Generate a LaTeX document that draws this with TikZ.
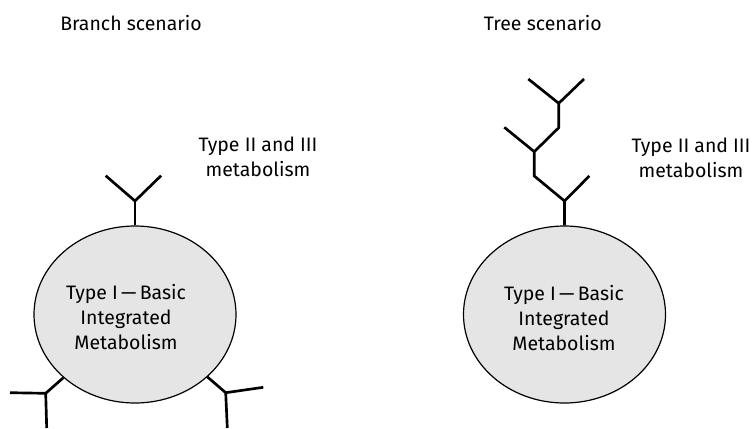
\documentclass[tikz,border=0pt]{standalone}
\usepackage{fontspec}
\setmainfont{Fira Sans}
\usetikzlibrary{shapes.geometric,positioning}

\definecolor{coregray}{RGB}{229,229,229}

\tikzset{
  core/.style={ellipse, draw, line width=0.9pt, fill=coregray,
    minimum width=151.5pt, minimum height=132.75pt, inner sep=0pt},
  twig/.style={line width=2pt},
  caption/.style={font=\fontsize{14.6}{18.75}\selectfont, align=center, inner sep=0pt},
}

\begin{document}
\begin{tikzpicture}[x=0.75pt,y=0.75pt,yscale=-1,xscale=1]
\useasboundingbox (0,0) rectangle (755,428);

% titles
\node[caption, anchor=west] (titleL) at (60,22.7) {Branch scenario};
\node[caption, anchor=east] (titleR) at (602,22.7) {Tree scenario};

% branch scenario: core with three short branches
\node[core] (basicL) at (135,314.5) {};
\node[caption] (textL) at (126,316.7) {Type I\,---\,Basic\\Integrated\\Metabolism};
\node[caption] (outerL) at (258,156.5) {Type II and III\\metabolism};

\coordinate (forkL) at (135,201);
\coordinate (tipLa) at (105.7,175.7);
\coordinate (tipLb) at (161,175.7);
\draw[twig] (basicL) -- (forkL);
\draw[twig] (tipLa) -- (forkL) -- (tipLb);

\coordinate (forkBL) at (45.7,393.3);
\coordinate (tipBLa) at (10,392.7);
\coordinate (tipBLb) at (46.7,428);
\draw[twig] (basicL) -- (forkBL);
\draw[twig] (tipBLa) -- (forkBL) -- (tipBLb);

\coordinate (forkBR) at (225.7,392.7);
\coordinate (tipBRa) at (263.3,387.3);
\coordinate (tipBRb) at (227.3,428);
\draw[twig] (basicL) -- (forkBR);
\draw[twig] (tipBRa) -- (forkBR) -- (tipBRb);

% tree scenario: one stem forking upwards
\node[core] (basicR) at (564.5,314.5) {};
\node[caption] (textR) at (564,318) {Type I\,---\,Basic\\Integrated\\Metabolism};
\node[caption] (outerR) at (691,157.5) {Type II and III\\metabolism};

\coordinate (forkR1) at (564.5,201);
\coordinate (tipR1) at (589.3,176);
\coordinate (bendR1) at (534.3,176);
\coordinate (forkR2) at (534.3,151.7);
\coordinate (tipR2) at (504.3,127.3);
\coordinate (bendR2) at (558.7,127.7);
\coordinate (forkR3) at (558.7,103.3);
\coordinate (tipR3a) at (528.3,79);
\coordinate (tipR3b) at (584,79);
\draw[twig] (basicR) -- (forkR1) -- (bendR1) -- (forkR2) -- (bendR2) -- (forkR3);
\draw[twig] (forkR1) -- (tipR1);
\draw[twig] (forkR2) -- (tipR2);
\draw[twig] (tipR3a) -- (forkR3) -- (tipR3b);
\end{tikzpicture}
\end{document}
